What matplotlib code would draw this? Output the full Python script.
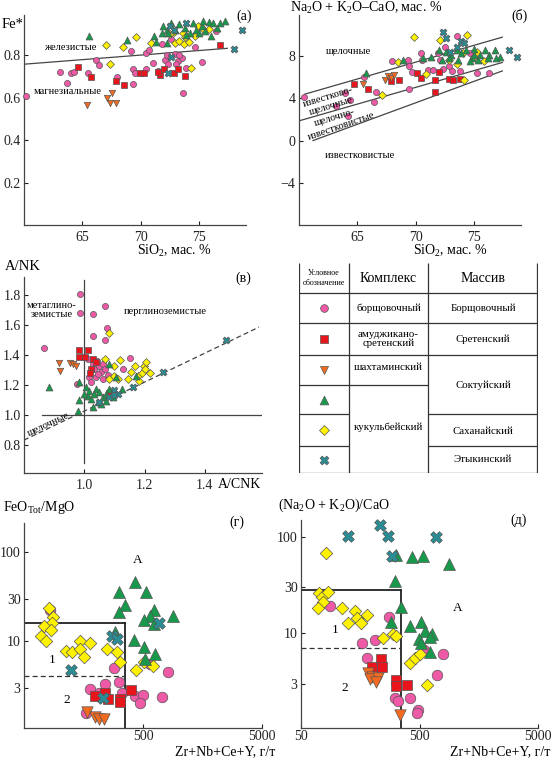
"""Geochemical classification diagrams of the granitoid massifs (panels а-д) with legend table."""

import matplotlib
matplotlib.use("Agg")
import matplotlib.pyplot as plt
from matplotlib.ticker import NullLocator

plt.rcParams["font.family"] = ["Liberation Serif", "DejaVu Serif"]
plt.rcParams["mathtext.fontset"] = "custom"
plt.rcParams["mathtext.rm"] = "Liberation Serif"
plt.rcParams["mathtext.it"] = "Liberation Serif:italic"

W, H = 553, 760

# Section: panel (а) Fe* vs SiO2
A_CIRC_X = [60.2, 63.1, 63.7, 64.0, 64.3, 65.5, 66.2, 66.4, 68.0, 69.2, 69.3, 69.5, 69.3, 70.4, 70.4, 70.7,
            71.0, 71.8, 71.5, 72.1, 72.3, 72.6, 72.9, 73.2, 73.5, 73.0, 73.6, 73.9, 74.6, 75.2, 76.4, 73.3, 72.2]
A_CIRC_Y = [0.61, 0.72, 0.67, 0.718, 0.72, 0.715, 0.778, 0.754, 0.70, 0.82, 0.734, 0.715, 0.663, 0.734, 0.813,
            0.824, 0.762, 0.852, 0.726, 0.778, 0.757, 0.876, 0.805, 0.773, 0.789, 0.757, 0.62, 0.742, 0.841,
            0.769, 0.915, 0.80, 0.80]
A_SQ_X = [64.6, 65.7, 67.9, 68.6, 69.9, 70.3, 71.6, 72.0, 72.8, 73.2, 73.8, 76.8, 71.5]
A_SQ_Y = [0.746, 0.698, 0.68, 0.66, 0.715, 0.715, 0.706, 0.737, 0.718, 0.734, 0.702, 0.847, 0.72]
A_TD_X = [65.4, 67.1, 67.5, 67.4, 67.9]
A_TD_Y = [0.568, 0.60, 0.62, 0.573, 0.573]
A_TU_X = [65.6, 68.8, 71.1, 71.9, 72.2, 72.6, 73.3, 73.8, 74.5, 75.2, 75.8, 76.2, 76.8, 77.2, 72.2, 71.3,
          74.7, 75.5, 76.0, 75.0, 72.9, 74.2, 76.5, 75.3, 72.3, 73.9, 71.8]
A_TU_Y = [0.89, 0.87, 0.89, 0.94, 0.92, 0.95, 0.946, 0.93, 0.954, 0.94, 0.957, 0.95, 0.954, 0.962, 0.86,
          0.863, 0.92, 0.915, 0.89, 0.905, 0.92, 0.905, 0.93, 0.962, 0.907, 0.895, 0.907]
A_DI_X = [67.0, 68.5, 69.6, 67.4, 70.9, 72.8, 72.9, 73.3, 73.6, 73.7, 74.1, 74.6, 74.9, 75.8, 74.3, 73.8, 72.5, 75.3]
A_DI_Y = [0.847, 0.84, 0.888, 0.757, 0.857, 0.91, 0.857, 0.868, 0.907, 0.852, 0.863, 0.89, 0.94, 0.926,
          0.742, 0.888, 0.90, 0.923]
A_X_X = [78.7, 78.0, 72.5, 73.9, 72.6, 72.3, 72.8]
A_X_Y = [0.918, 0.83, 0.94, 0.95, 0.79, 0.715, 0.92]
A_LINE_X = [60.0, 77.4]
A_LINE_Y = [0.758, 0.833]

# Section: panel (б) MALI vs SiO2
B_CIRC_X = [60.4, 63.2, 63.9, 64.4, 64.2, 65.6, 66.4, 66.6, 68.0, 69.3, 69.4, 69.4, 69.7, 70.4, 70.5, 71.0,
            71.5, 71.9, 72.1, 72.3, 72.8, 73.1, 73.5, 73.8, 74.6, 75.2, 76.3, 72.8, 72.5]
B_CIRC_Y = [4.1, 3.3, 4.5, 3.8, 2.3, 6.0, 3.7, 4.6, 7.5, 7.6, 7.1, 4.9, 6.5, 8.3, 7.6, 6.7, 6.7, 8.3, 7.6,
            6.8, 7.1, 6.6, 9.9, 6.6, 8.3, 6.4, 6.4, 8.3, 8.9]
B_SQ_X = [64.7, 65.9, 67.9, 68.6, 70.1, 70.4, 71.6, 71.6, 72.0, 72.8, 73.2, 73.8]
B_SQ_Y = [5.4, 4.9, 5.6, 5.7, 6.4, 5.9, 5.7, 4.6, 6.5, 5.8, 5.7, 5.8]
B_TD_X = [65.5, 67.4, 67.6, 67.9, 68.1]
B_TD_Y = [5.4, 5.7, 6.1, 5.9, 6.2]
B_TU_X = [65.7, 68.9, 70.6, 71.3, 72.0, 72.6, 73.0, 73.5, 73.9, 74.3, 74.8, 75.0, 75.5, 75.9, 76.3, 76.8,
          77.2, 74.6, 75.3, 72.2, 73.6, 75.0, 76.2, 76.9, 72.8]
B_TU_Y = [6.4, 7.6, 7.8, 7.9, 8.6, 8.4, 8.1, 8.6, 8.3, 8.6, 7.8, 8.7, 8.1, 8.6, 8.1, 8.6, 7.9, 7.5, 7.6,
          7.6, 7.6, 8.1, 7.8, 7.8, 7.8]
B_DI_X = [69.8, 68.5, 67.1, 70.9, 72.1, 72.8, 73.5, 74.0, 74.4, 74.1, 75.0, 75.8, 75.2]
B_DI_Y = [9.8, 7.4, 4.3, 6.3, 9.5, 7.6, 7.3, 8.3, 10.0, 5.7, 7.9, 7.5, 8.4]
B_X_X = [72.3, 72.6, 73.5, 73.9, 74.1, 72.9, 78.0, 78.7]
B_X_Y = [10.3, 9.7, 8.9, 9.4, 9.2, 8.4, 8.6, 7.9]
B_LINES_X = [[60.5, 77.4], [60.1, 77.4], [61.2, 77.4]]
B_LINES_Y = [[4.4, 9.8], [1.9, 7.4], [0.0, 6.6]]

# Section: panel (в) A/NK vs A/CNK
C_CIRC_X = [0.867, 0.986, 0.987, 1.03, 1.03, 1.069, 1.076, 1.07, 0.977, 1.017, 1.028, 1.033, 1.042, 1.05,
            1.061, 1.056, 1.07, 1.039, 1.078, 1.128, 1.152, 1.022, 1.044, 1.011, 1.061]
C_CIRC_Y = [1.444, 1.804, 1.678, 1.671, 1.527, 1.727, 1.578, 1.5, 1.204, 1.249, 1.338, 1.304, 1.36, 1.327,
            1.338, 1.282, 1.304, 1.249, 1.267, 1.304, 1.378, 1.216, 1.271, 1.371, 1.238]
C_SQ_X = [0.983, 1.011, 0.981, 1.003, 1.028, 1.039, 1.022, 1.019, 1.081]
C_SQ_Y = [1.433, 1.433, 1.387, 1.387, 1.371, 1.349, 1.304, 1.276, 1.142]
C_TD_X = [0.917, 0.919, 0.952, 0.963, 0.974]
C_TD_Y = [1.342, 1.289, 1.342, 1.338, 1.327]
C_TU_X = [0.883, 0.983, 0.981, 0.98, 1.006, 1.011, 1.022, 1.028, 1.039, 1.05, 1.061, 1.072, 1.083, 1.094,
          1.106, 1.083, 1.126, 1.172, 1.044, 1.056, 1.017, 1.0, 1.072, 1.033]
C_TU_Y = [1.182, 1.216, 1.098, 1.022, 1.182, 1.127, 1.104, 1.049, 1.171, 1.149, 1.116, 1.138, 1.171, 1.116,
          1.249, 1.338, 1.171, 1.26, 1.082, 1.071, 1.16, 1.138, 1.093, 1.138]
C_DI_X = [1.081, 1.07, 1.1, 1.12, 1.1, 1.083, 1.111, 1.144, 1.156, 1.178, 1.17, 1.197, 1.192, 1.2, 1.217,
          1.181, 1.206]
C_DI_Y = [1.549, 1.371, 1.327, 1.367, 1.26, 1.238, 1.238, 1.238, 1.282, 1.26, 1.327, 1.327, 1.276, 1.304,
          1.276, 1.227, 1.349]
C_X_X = [1.469, 1.261, 1.163, 1.1, 1.111, 1.083, 1.05, 1.1]
C_X_Y = [1.498, 1.282, 1.182, 1.164, 1.138, 1.116, 1.082, 1.133]
C_DASH_X = [0.80, 1.58]
C_DASH_Y = [0.83, 1.585]

# Section: panel (г) FeOtot/MgO vs Zr+Nb+Ce+Y
D_CIRC_X = [82, 284, 568, 809, 313, 242, 181, 212, 333, 431, 500, 474, 721, 167]
D_CIRC_Y = [22.7, 5.0, 5.47, 4.49, 3.46, 3.26, 2.86, 2.63, 2.63, 2.41, 2.45, 2.03, 2.37, 1.54]
D_SQ_X = [197, 241, 253, 318, 318, 396]
D_SQ_Y = [2.41, 2.63, 2.21, 2.21, 2.07, 2.81]
D_TD_X = [169, 199, 212, 234]
D_TD_Y = [1.57, 1.38, 1.32, 1.34]
D_TU_X = [293, 313, 355, 316, 431, 529, 621, 568, 513, 621, 891, 423, 513, 634, 522]
D_TU_Y = [12.6, 35.6, 25.8, 21.2, 46, 35.6, 22.3, 19.4, 17.5, 15.4, 19.1, 10.2, 8.63, 7.08, 6.22]
D_DI_X = [81, 87, 86, 73, 84, 69, 76, 112, 127, 149, 149, 181, 161, 250, 303, 318, 439, 505, 605]
D_DI_Y = [23.7, 18.8, 15.8, 14.8, 13.3, 11.4, 10, 7.7, 7.6, 10, 8.06, 9.58, 6.67, 8.2, 7.6, 5.8, 4.72, 5.8, 5.24]
D_X_X = [124, 231, 275, 303, 685]
D_X_Y = [4.72, 2.31, 11.4, 10.6, 16.1]
D_BOX = (350, 16, 4)   # x limit, upper solid y, dashed y

# Section: panel (д) (Na2O+K2O)/CaO vs Zr+Nb+Ce+Y
E_CIRC_X = [88, 278, 165, 211, 179, 546, 795, 707, 311, 327, 416, 489, 473]
E_CIRC_Y = [19.2, 14.9, 7.87, 8.53, 5.51, 6.71, 6.11, 3.7, 2.17, 2.01, 2.17, 1.61, 1.49]
E_SQ_X = [197, 237, 243, 315, 315, 390]
E_SQ_Y = [4.52, 5.38, 4.52, 3.29, 2.85, 2.92]
E_TD_X = [185, 197, 191, 225, 213, 342]
E_TD_Y = [3.86, 3.56, 3.34, 3.48, 3.16, 1.43]
E_TU_X = [315, 430, 539, 893, 311, 349, 287, 416, 512, 556, 634, 614, 495, 512, 614]
E_TU_Y = [65, 61, 63, 52, 35, 18.6, 13.2, 12.0, 13.2, 10.7, 9.8, 9.2, 8.67, 8.0, 6.46]
E_DI_X = [82, 71, 75, 85, 76, 69, 110, 143, 179, 148, 125, 160, 248, 301, 315, 416, 458, 505, 582]
E_DI_Y = [68, 26, 24, 27, 21.3, 18.2, 18.2, 17.2, 15.5, 14.3, 12.9, 12.9, 8.87, 9.8, 9.4, 4.97, 5.51, 6.1, 2.92]
E_X_X = [124, 232, 273, 295, 689]
E_X_Y = [102, 132, 102, 63, 99]
E_BOX = (350, 28, 7)

# Section: legend table content
TABLE_KEYS = ["circ", "sq", "td", "tu", "di", "x"]
TABLE_COMPLEX = ["борщовочный", "амуджикано-\nсретенский", "шахтаминский", "кукульбейский"]
TABLE_MASSIF = ["Борщовочный", "Сретенский", "Соктуйский", "Саханайский", "Этыкинский"]

# Section: marker styles
MARK = {
    "circ": ("o", "#EE5AA6"),
    "sq": ("s", "#E8161C"),
    "td": ("v", "#F26A1F"),
    "tu": ("^", "#18984B"),
    "di": ("D", "#FFF200"),
    "x": ("X", "#2A8C95"),
}
SMALL = {"circ": 4.4, "sq": 4.2, "td": 4.6, "tu": 5.0, "di": 4.0, "x": 5.0}
BIG = {"circ": 7.6, "sq": 7.2, "td": 8.2, "tu": 8.6, "di": 6.4, "x": 8.4}
ORDER = ["circ", "sq", "td", "di", "tu", "x"]

fig = plt.figure(figsize=(W / 100, H / 100), dpi=100)


def px_axes(left, top, right, bottom):
    return fig.add_axes([left / W, 1 - bottom / H, (right - left) / W, (bottom - top) / H])


def ftext(x, y, s, **kw):
    kw.setdefault("fontsize", 7.5)
    kw.setdefault("ha", "center")
    kw.setdefault("va", "center")
    fig.text(x / W, 1 - y / H, s, **kw)


def style_axes(ax):
    for side in ("top", "right"):
        ax.spines[side].set_visible(False)
    for side in ("left", "bottom"):
        ax.spines[side].set_linewidth(0.9)
        ax.spines[side].set_color("#444444")
    ax.tick_params(direction="in", length=3, width=0.8, labelsize=10, pad=2.5, colors="#222222")
    ax.tick_params(axis="x", pad=4)


def draw_groups(ax, groups, sizes):
    for key in ORDER:
        xs, ys = groups[key]
        marker, color = MARK[key]
        ax.scatter(xs, ys, marker=marker, s=sizes[key] ** 2, c=color, edgecolors="#555555",
                   linewidths=0.5, zorder=3, clip_on=False)


# Section: panel (а)
ax = px_axes(24, 15, 246, 225)
style_axes(ax)
ax.plot(A_LINE_X, A_LINE_Y, color="#444444", lw=0.9, zorder=2)
draw_groups(ax, {"circ": (A_CIRC_X, A_CIRC_Y), "sq": (A_SQ_X, A_SQ_Y), "td": (A_TD_X, A_TD_Y),
                 "tu": (A_TU_X, A_TU_Y), "di": (A_DI_X, A_DI_Y), "x": (A_X_X, A_X_Y)}, SMALL)
ax.set_xlim(60, 79)
ax.set_ylim(0, 0.99)
ax.set_xticks([65, 70, 75])
ax.set_yticks([0.2, 0.4, 0.6, 0.8])
ftext(2, 25, "Fe*", fontsize=10.5, ha="left")
ftext(244, 16, "(а)", fontsize=10)
ftext(71, 48, "железистые")
ftext(68, 92, "магнезиальные")
ftext(175, 251, "SiO$_2$, мас. %", fontsize=10)

# Section: panel (б)
ax = px_axes(299, 15, 521, 225)
style_axes(ax)
for lx, ly in zip(B_LINES_X, B_LINES_Y):
    ax.plot(lx, ly, color="#444444", lw=0.9, zorder=2)
draw_groups(ax, {"circ": (B_CIRC_X, B_CIRC_Y), "sq": (B_SQ_X, B_SQ_Y), "td": (B_TD_X, B_TD_Y),
                 "tu": (B_TU_X, B_TU_Y), "di": (B_DI_X, B_DI_Y), "x": (B_X_X, B_X_Y)}, SMALL)
ax.set_xlim(60, 79)
ax.set_ylim(-8, 11.9)
ax.set_xticks([65, 70, 75])
ax.set_yticks([-4, 0, 4, 8])
ax.set_yticklabels(["\u22124", "0", "4", "8"])
ftext(290, 8, "Na$_2$O + K$_2$O\u2013CaO, мас. %", fontsize=10, ha="left")
ftext(520, 16, "(б)", fontsize=10)
ftext(349, 51, "щелочные")
ftext(360, 156, "известковистые")
ftext(328, 97, "известково-", rotation=17)
ftext(331, 106, "щелочные", rotation=17)
ftext(335, 118, "щелочно-", rotation=17)
ftext(341, 126, "известковистые", rotation=19)
ftext(451, 251, "SiO$_2$, мас. %", fontsize=10)

# Section: panel (в)
ax = px_axes(24, 277, 262, 473)
style_axes(ax)
ax.plot([1.0, 1.0], [0.68, 1.9], color="#444444", lw=0.9, zorder=2)
ax.plot([0.86, 1.59], [1.0, 1.0], color="#444444", lw=0.9, zorder=2)
ax.plot(C_DASH_X, C_DASH_Y, color="#444444", lw=0.9, ls=(0, (4, 2.5)), zorder=2)
draw_groups(ax, {"circ": (C_CIRC_X, C_CIRC_Y), "sq": (C_SQ_X, C_SQ_Y), "td": (C_TD_X, C_TD_Y),
                 "tu": (C_TU_X, C_TU_Y), "di": (C_DI_X, C_DI_Y), "x": (C_X_X, C_X_Y)}, SMALL)
ax.set_xlim(0.8, 1.59)
ax.set_ylim(0.61, 1.92)
ax.set_xticks([1.0, 1.2, 1.4])
ax.set_yticks([0.8, 1.0, 1.2, 1.4, 1.6, 1.8])
ftext(5, 266, "A/NK", fontsize=10.5, ha="left")
ftext(243, 278, "(в)", fontsize=10)
ftext(52, 310, "метаглино-\nземистые", linespacing=1.0)
ftext(165, 311, "перглиноземистые")
ftext(48, 424, "щелочные", rotation=25)
ftext(218, 484, "A/CNK", fontsize=10, ha="left")

# Section: legend table
axt = px_axes(299, 263, 538, 473)
axt.set_xlim(299, 538)
axt.set_ylim(473, 263)
axt.axis("off")
lk = dict(color="#333333", lw=0.9, solid_capstyle="butt")
for xv in (299.5, 349, 428, 537.5):
    axt.plot([xv, xv], [263, 473], **lk)
for yv in (293, 323, 355, 472.5):
    axt.plot([299, 538], [yv, yv], **lk)
axt.plot([299, 428], [385, 385], **lk)
for yv in (414, 446):
    axt.plot([299, 349], [yv, yv], **lk)
    axt.plot([428, 538], [yv, yv], **lk)
row_y = [308, 339, 370, 399.5, 430, 459.5]
for key, yy in zip(TABLE_KEYS, row_y):
    marker, color = MARK[key]
    axt.scatter([324], [yy], marker=marker, s=SMALL[key] ** 2 * 1.6, c=color,
                edgecolors="#555555", linewidths=0.5, zorder=3)
axt.text(324, 278, "Условное\nобозначение", fontsize=5.8, ha="center", va="center", linespacing=1.3)
axt.text(388.5, 278, "Комплекс", fontsize=10, ha="center", va="center")
axt.text(483, 278, "Массив", fontsize=10, ha="center", va="center")
for text, yy in zip(TABLE_COMPLEX, [308, 339, 368, 427]):
    axt.text(388.5, yy, text, fontsize=7.8, ha="center", va="center", linespacing=1.05)
for text, yy in zip(TABLE_MASSIF, [308, 339, 385, 431, 460]):
    axt.text(483, yy, text, fontsize=7.8, ha="center", va="center")


def log_panel(ax, xmax_box, ytop, ydash, ylim_top):
    style_axes(ax)
    ax.tick_params(axis="x", pad=1.5)
    ax.set_xscale("log")
    ax.set_yscale("log")
    ax.plot([50, xmax_box], [ytop, ytop], color="#222222", lw=1.3, zorder=2)
    ax.plot([xmax_box, xmax_box], [1, ytop], color="#222222", lw=1.3, zorder=2)
    ax.plot([50, xmax_box], [ydash, ydash], color="#333333", lw=0.9, ls=(0, (4, 2.5)), zorder=2)
    ax.set_xlim(50, 5000)
    ax.set_ylim(1.05, ylim_top)
    ax.xaxis.set_minor_locator(NullLocator())
    ax.yaxis.set_minor_locator(NullLocator())
    ax.set_yticks([3, 10, 30, 100])
    ax.set_yticklabels(["3", "10", "30", "100"])


# Section: panel (г)
ax = px_axes(24, 523, 262, 728)
log_panel(ax, *D_BOX, 214)
draw_groups(ax, {"circ": (D_CIRC_X, D_CIRC_Y), "sq": (D_SQ_X, D_SQ_Y), "td": (D_TD_X, D_TD_Y),
                 "tu": (D_TU_X, D_TU_Y), "di": (D_DI_X, D_DI_Y), "x": (D_X_X, D_X_Y)}, BIG)
ax.set_xticks([500, 5000])
ax.set_xticklabels(["500", "5000"])
ftext(3, 508, "FeO$_{\\mathrm{Tot}}$/MgO", fontsize=10, ha="left")
ftext(237, 522, "(г)", fontsize=10)
ftext(138, 560, "A", fontsize=9.5)
ftext(52, 660, "1", fontsize=9.5)
ftext(67, 700, "2", fontsize=9.5)
ftext(225, 752, "Zr+Nb+Ce+Y, г/т", fontsize=10)

# Section: panel (д)
ax = px_axes(301, 520, 538, 728)
log_panel(ax, *E_BOX, 149)
draw_groups(ax, {"circ": (E_CIRC_X, E_CIRC_Y), "sq": (E_SQ_X, E_SQ_Y), "td": (E_TD_X, E_TD_Y),
                 "tu": (E_TU_X, E_TU_Y), "di": (E_DI_X, E_DI_Y), "x": (E_X_X, E_X_Y)}, BIG)
ax.set_xticks([50, 500, 5000])
ax.set_xticklabels(["50", "500", "5000"])
ftext(278, 505, "(Na$_2$O + K$_2$O)/CaO", fontsize=10, ha="left")
ftext(519, 520, "(д)", fontsize=10)
ftext(458, 608, "A", fontsize=9.5)
ftext(335, 630, "1", fontsize=9.5)
ftext(345, 688, "2", fontsize=9.5)
ftext(500, 752, "Zr+Nb+Ce+Y, г/т", fontsize=10)

fig.savefig("out.png", dpi=100, facecolor="white")
